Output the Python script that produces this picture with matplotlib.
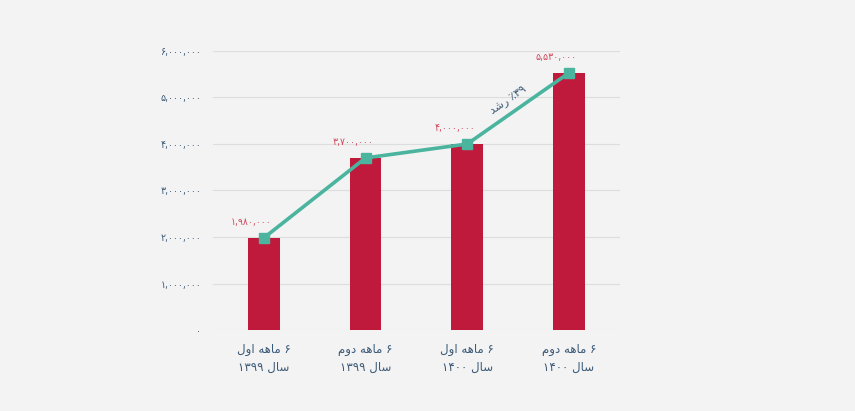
import numpy as np
import matplotlib
matplotlib.use('Agg')
import matplotlib.pyplot as plt

# داده‌ها
categories = ['۶ ماهه اول\nسال ۱۳۹۹', '۶ ماهه دوم\nسال ۱۳۹۹', '۶ ماهه اول\nسال ۱۴۰۰', '۶ ماهه دوم\nسال ۱۴۰۰']
values = [1980000, 3700000, 4000000, 5530000]
yticks = [0, 1000000, 2000000, 3000000, 4000000, 5000000, 6000000]
growth_label = '۳۹٪ رشد'

# شکل‌های حروف عربی: (تنها، پایانی، آغازی، میانی)
FORMS = {
    'ا': ('\uFE8D', '\uFE8E', None, None),
    'و': ('\uFEED', '\uFEEE', None, None),
    'د': ('\uFEA9', '\uFEAA', None, None),
    'ر': ('\uFEAD', '\uFEAE', None, None),
    'ل': ('\uFEDD', '\uFEDE', '\uFEDF', '\uFEE0'),
    'م': ('\uFEE1', '\uFEE2', '\uFEE3', '\uFEE4'),
    'ه': ('\uFEE9', '\uFEEA', '\uFEEB', '\uFEEC'),
    'س': ('\uFEB1', '\uFEB2', '\uFEB3', '\uFEB4'),
    'ش': ('\uFEB5', '\uFEB6', '\uFEB7', '\uFEB8'),
}
FA_DIGITS = str.maketrans('0123456789', '۰۱۲۳۴۵۶۷۸۹')


def shape_word(w):
    out = []
    for i, c in enumerate(w):
        if c not in FORMS:
            out.append(c)
            continue
        prev = w[i - 1] if i > 0 else None
        nxt = w[i + 1] if i + 1 < len(w) else None
        jp = prev in FORMS and FORMS[prev][2] is not None
        jn = FORMS[c][2] is not None and nxt in FORMS
        iso, fin, ini, med = FORMS[c]
        if jp and jn:
            out.append(med)
        elif jp:
            out.append(fin)
        elif jn:
            out.append(ini)
        else:
            out.append(iso)
    return ''.join(out[::-1])


def visual(line):
    words = []
    for w in line.split(' '):
        if any(c in FORMS for c in w):
            words.append(shape_word(w))
        else:
            # عدد با علامت درصد پیش از ارقام نمایش داده می‌شود
            if w.endswith('٪'):
                w = '٪' + w[:-1]
            words.append(w)
    return ' '.join(words[::-1])


def rtl(s):
    return '\n'.join(visual(l) for l in s.split('\n'))


def fa_num(v):
    return f'{v:,}'.translate(FA_DIGITS)


bar_color = '#bf1a3b'
line_color = '#4bb49f'
label_blue = '#3b5a78'
val_red = '#cf4a5e'
bg = '#f3f3f3'

plt.rcParams['font.family'] = ['DejaVu Sans']

fig = plt.figure(figsize=(8.55, 4.11), dpi=100, facecolor=bg)
ax = fig.add_axes([0.249, 0.197, 0.476, 0.679], facecolor=bg)

x = np.arange(len(values))
ax.bar(x, values, width=0.31, color=bar_color, zorder=2)
ax.plot(x, values, color=line_color, lw=2.6, marker='s', ms=7.5, zorder=3)

for xi, v in zip(x, values):
    ax.annotate(fa_num(v), (xi, v), xytext=(-9, 11.5), textcoords='offset points',
                ha='center', va='center', fontsize=7.5, color=val_red,
                fontstretch='condensed')

ax.text(2.4, 4950000, rtl(growth_label), rotation=35, rotation_mode='anchor',
        ha='center', va='center', fontsize=8, color=label_blue)

ax.set_xlim(-0.5, 3.5)
ax.set_ylim(0, 6000000)
ax.set_yticks(yticks)
ax.set_yticklabels([fa_num(t) for t in yticks], fontsize=7.5, color=label_blue,
                   fontstretch='condensed')
ax.set_xticks(x)
ax.set_xticklabels([rtl(c) for c in categories], fontsize=8.5, color=label_blue, linespacing=1.5)
ax.tick_params(axis='both', length=0)
ax.tick_params(axis='y', pad=8.5)
ax.tick_params(axis='x', pad=9)
ax.grid(axis='y', color='#dddddd', lw=0.8, zorder=0)
for s in ax.spines.values():
    s.set_visible(False)

fig.savefig('out.png', dpi=100, facecolor=bg)
